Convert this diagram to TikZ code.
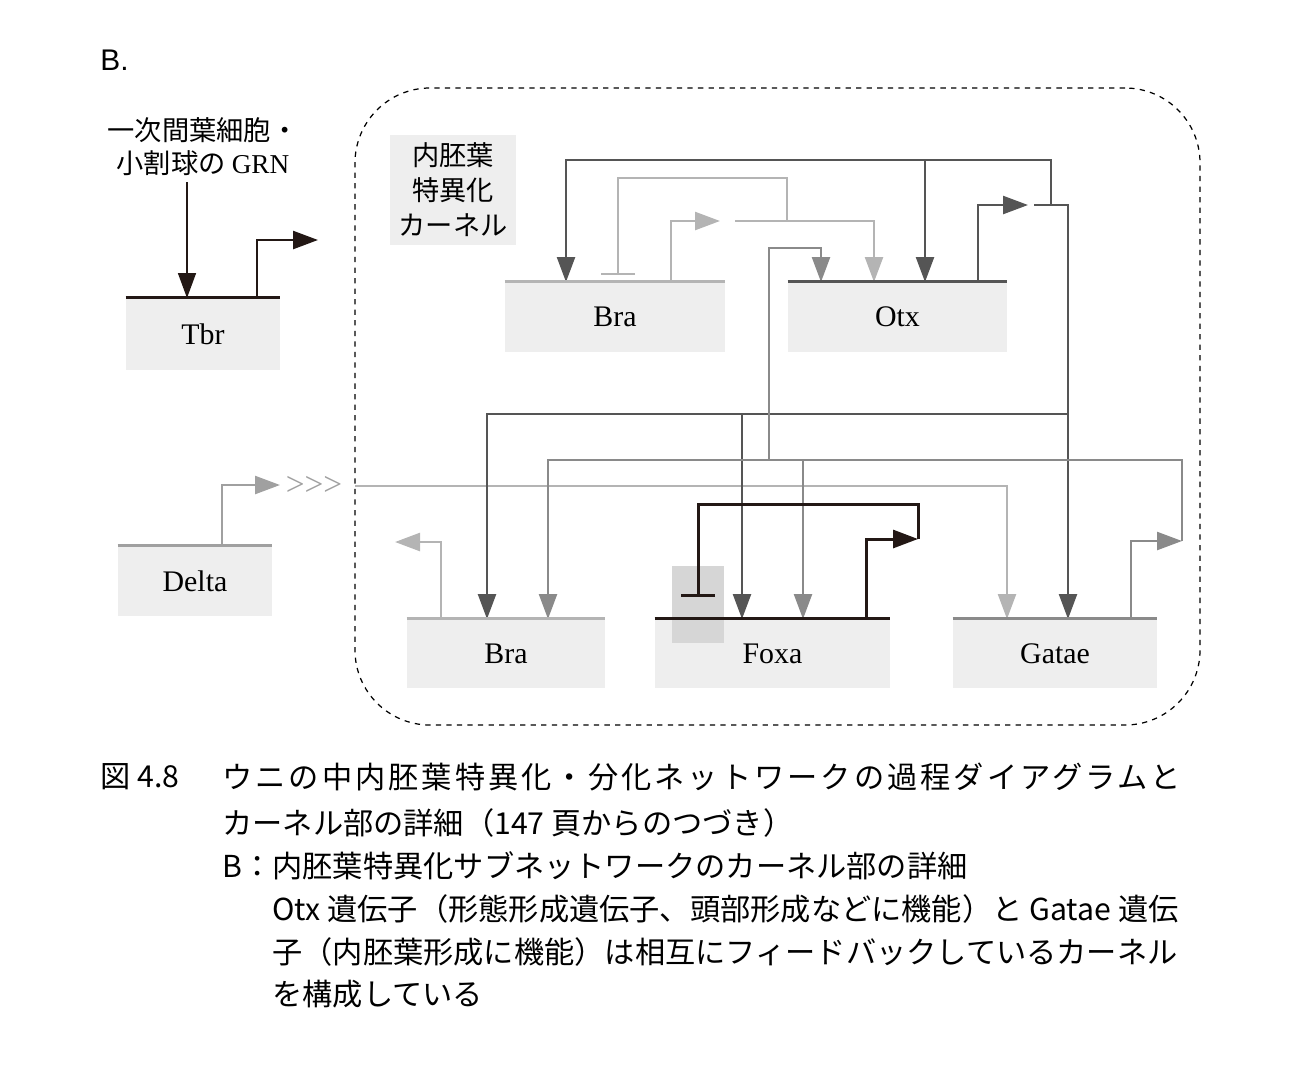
\documentclass[tikz,border=0pt]{standalone}
\usepackage{fontspec}
\setmainfont{Liberation Serif}
\setsansfont{Liberation Sans}
\newfontfamily\jp{Noto Sans CJK JP}
\usetikzlibrary{arrows.meta}
\definecolor{ink}{HTML}{231815}
\definecolor{darkg}{HTML}{555555}
\definecolor{midg}{HTML}{8A8A8A}
\definecolor{deltag}{HTML}{A0A0A0}
\definecolor{lightg}{HTML}{B4B4B4}
\definecolor{boxg}{HTML}{EEEEEE}
\definecolor{markg}{HTML}{D6D6D6}

\begin{document}
\begin{tikzpicture}[x=0.2mm, y=-0.2mm,
	gene/.style = {fill=boxg, inner sep=0pt, font=\fontsize{17}{20}\selectfont},
	jptext/.style = {font=\jp\fontsize{15.5}{18.8}\selectfont, align=center},
	captext/.style = {anchor=west, inner sep=0pt, font=\jp\fontsize{17.2}{20}\selectfont},
	link/.style = {line width=1.4pt},
	act/.style = {link, -{Triangle[length=5mm, width=3.6mm]}},
	rep/.style = {link, -{Bar[width=6.8mm]}},
	site/.style = {line width=2pt}]
		\useasboundingbox (0,0) rectangle (1302,1073);
		%Kehys
		\node[draw, dashed, line width=0.7pt, rounded corners=15mm, minimum width=169mm, minimum height=127.4mm] (frame) at (777.5,406.5) {};
		\node[font=\sffamily\fontsize{17}{20}\selectfont, anchor=west, inner sep=0pt] (part) at (100,60) {B.};
		\node[fill=boxg, jptext, font=\jp\fontsize{15.5}{19.9}\selectfont, minimum width=25.2mm, minimum height=22mm] (kernel) at (453,190) {内胚葉\\特異化\\カーネル};
		\node[jptext] (grn) at (203,147) {一次間葉細胞・\\小割球の {\rmfamily GRN}};
		%Geenit
		\node[gene, minimum width=30.8mm, minimum height=14.4mm] (tbr) at (203,334) {Tbr};
		\node[gene, minimum width=30.8mm, minimum height=14mm] (delta) at (195,581) {Delta};
		\node[gene, minimum width=44mm, minimum height=14mm] (braA) at (615,317) {Bra};
		\node[gene, minimum width=43.8mm, minimum height=14mm] (otx) at (897.5,317) {Otx};
		\node[gene, minimum width=39.6mm, minimum height=13.8mm] (braB) at (506,653.5) {Bra};
		\node[gene, minimum width=47mm, minimum height=13.8mm] (foxa) at (772.5,653.5) {Foxa};
		\node[gene, minimum width=40.8mm, minimum height=13.8mm] (gatae) at (1055,653.5) {Gatae};
		\node[fill=markg, inner sep=0pt, minimum width=10.4mm, minimum height=15.4mm] (mark) at (698,604.5) {};
		%Pisteet
		\coordinate (tbrIn) at (187,298);
		\coordinate (tbrP) at (257,298);
		\coordinate (tbrOut) at (318,240);
		\coordinate (deltaP) at (222,546);
		\coordinate (deltaOut) at (280,485);
		\coordinate (deltaIn) at (355,486);
		\coordinate (braAP) at (671,282);
		\coordinate (braAOut) at (720,221);
		\coordinate (braAJ) at (735,221);
		\coordinate (braAK) at (787,221);
		\coordinate (braAT) at (787,178);
		\coordinate (braAR) at (618,275);
		\coordinate (braAO) at (566,282);
		\coordinate (otxP) at (978,282);
		\coordinate (otxOut) at (1028,205);
		\coordinate (otxJ) at (1034,205);
		\coordinate (otxK) at (1051,205);
		\coordinate (otxT) at (1051,160);
		\coordinate (otxL) at (1068,414);
		\coordinate (otxO) at (925,282);
		\coordinate (otxB) at (874,282);
		\coordinate (otxG) at (821,282);
		\coordinate (braBP) at (441,619);
		\coordinate (braBOut) at (395,542);
		\coordinate (braBO) at (487,619);
		\coordinate (braBG) at (548,619);
		\coordinate (foxaP) at (866,619);
		\coordinate (foxaOut) at (918,539);
		\coordinate (foxaT) at (918,504);
		\coordinate (foxaR) at (698,597);
		\coordinate (foxaO) at (742,619);
		\coordinate (foxaG) at (803,619);
		\coordinate (gataeP) at (1131,619);
		\coordinate (gataeOut) at (1182,541);
		\coordinate (gataeL) at (1182,460);
		\coordinate (gataeK) at (769,460);
		\coordinate (gataeT) at (769,248);
		\coordinate (gataeD) at (1007,619);
		\coordinate (gataeO) at (1068,619);
		% Nuolet
		\draw[act, ink, line width=0.9pt] (grn.south -| tbrIn) -- (tbrIn);	% GRN -> Tbr
		\draw[act, ink] (tbrP) |- (tbrOut);					% Tbr
		\draw[act, deltag] (deltaP) |- (deltaOut);				% Delta
		\node[deltag, font=\fontsize{19}{20}\selectfont, inner sep=0pt] (relay) at (314,486) {>{}>{}>};
		\draw[act, lightg] (deltaIn) -| (gataeD);				% Delta -> Gatae
		\draw[act, lightg] (braAP) |- (braAOut);				% Bra
		\draw[act, lightg] (braAJ) -| (otxB);					% Bra -> Otx
		\draw[rep, lightg] (braAK) -- (braAT) -| (braAR);		% Bra -| Bra
		\draw[act, darkg] (otxP) |- (otxOut);					% Otx
		\draw[act, darkg] (otxJ) -| (gataeO);					% Otx -> Gatae
		\draw[act, darkg] (otxK) -- (otxT) -| (braAO);			% Otx -> Bra
		\draw[act, darkg] (otxT -| otxO) -- (otxO);				% Otx -> Otx
		\draw[act, darkg] (otxL) -| (braBO);					% Otx -> Bra
		\draw[act, darkg] (otxL -| foxaO) -- (foxaO);			% Otx -> Foxa
		\draw[act, midg] (gataeP) |- (gataeOut);				% Gatae
		\draw[act, midg] (gataeOut) -- (gataeL) -| (braBG);		% Gatae -> Bra
		\draw[act, midg] (gataeL -| foxaG) -- (foxaG);			% Gatae -> Foxa
		\draw[act, midg] (gataeK) -- (gataeT) -| (otxG);		% Gatae -> Otx
		\draw[act, ink, line width=1.7pt] (foxaP) |- (foxaOut);	% Foxa
		\draw[rep, ink, line width=1.7pt] (foxaOut) -- (foxaT) -| (foxaR);	% Foxa -| Foxa
		\draw[act, lightg] (braBP) |- (braBOut);				% Bra
		% Promoottorit
		\draw[site, ink] (tbr.north west) -- (tbr.north east);
		\draw[site, deltag] (delta.north west) -- (delta.north east);
		\draw[site, lightg] (braA.north west) -- (braA.north east);
		\draw[site, darkg] (otx.north west) -- (otx.north east);
		\draw[site, lightg] (braB.north west) -- (braB.north east);
		\draw[site, ink] (foxa.north west) -- (foxa.north east);
		\draw[site, midg] (gatae.north west) -- (gatae.north east);
		% Kuvateksti
		\node[captext] (fig) at (100,777) {図 4.8};
		\node[captext, font=\jp\fontsize{17.2}{20}\selectfont\addfontfeatures{LetterSpace=10}] (capA) at (222,777) {ウニの中内胚葉特異化・分化ネットワークの過程ダイアグラムと};
		\node[captext] (capB) at (222,823) {カーネル部の詳細（147 頁からのつづき）};
		\node[captext] (capC) at (222,866) {B：内胚葉特異化サブネットワークのカーネル部の詳細};
		\node[captext] (capD) at (272,909) {Otx 遺伝子（形態形成遺伝子、頭部形成などに機能）と Gatae 遺伝};
		\node[captext] (capE) at (272,952) {子（内胚葉形成に機能）は相互にフィードバックしているカーネル};
		\node[captext] (capF) at (272,994) {を構成している};
\end{tikzpicture}
\end{document}
